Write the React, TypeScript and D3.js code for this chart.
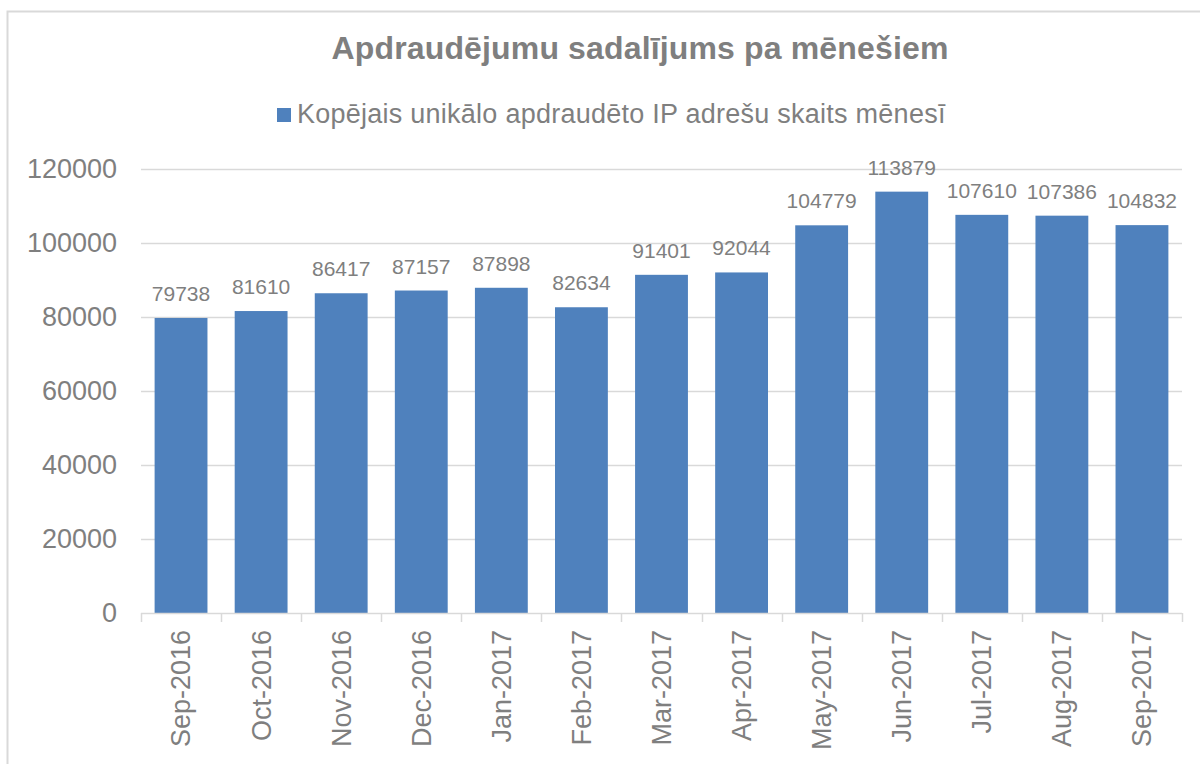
import { useRef, useEffect } from "react";
import * as d3 from "d3";

const TITLE = "Apdraudējumu sadalījums pa mēnešiem";
const SERIES_NAME = "Kopējais unikālo apdraudēto IP adrešu skaits mēnesī";

const months = [
  "Sep-2016",
  "Oct-2016",
  "Nov-2016",
  "Dec-2016",
  "Jan-2017",
  "Feb-2017",
  "Mar-2017",
  "Apr-2017",
  "May-2017",
  "Jun-2017",
  "Jul-2017",
  "Aug-2017",
  "Sep-2017",
];

const counts = [
  79738, 81610, 86417, 87157, 87898, 82634, 91401, 92044, 104779, 113879,
  107610, 107386, 104832,
];

const yTicks = [0, 20000, 40000, 60000, 80000, 100000, 120000];

const FONT = "'Liberation Sans', Arial, sans-serif";
const TEXT = "#7f7f7f";
const BAR = "#4f81bd";
const GRID = "#d9d9d9";

export default function App() {
  const svgRef = useRef<SVGSVGElement>(null);

  useEffect(() => {
    if (!svgRef.current) return;
    const svg = d3.select(svgRef.current);
    svg.selectAll("*").remove();

    const width = 1200;
    const height = 764;
    const margin = { top: 169, right: 18, bottom: 151, left: 141 };
    const innerW = width - margin.left - margin.right;
    const innerH = height - margin.top - margin.bottom;

    svg.attr("width", width).attr("height", height);

    svg
      .append("rect")
      .attr("width", width)
      .attr("height", height)
      .attr("fill", "#fff");

    // chart frame (right/bottom edges run off the picture)
    svg
      .append("rect")
      .attr("x", 7.5)
      .attr("y", 11.5)
      .attr("width", width + 20)
      .attr("height", height + 20)
      .attr("fill", "none")
      .attr("stroke", GRID)
      .attr("stroke-width", 2);

    const data = months.map((m, i) => ({ month: m, value: counts[i] }));

    const x = d3
      .scaleBand()
      .domain(months)
      .range([0, innerW])
      .paddingInner(0.34)
      .paddingOuter(0.17);
    const y = d3.scaleLinear().domain([0, 120000]).range([innerH, 0]);

    const g = svg
      .append("g")
      .attr("transform", `translate(${margin.left},${margin.top})`);

    // grid lines
    g.append("g")
      .selectAll("line")
      .data(yTicks.filter((t) => t > 0))
      .join("line")
      .attr("x1", 0)
      .attr("x2", innerW)
      .attr("y1", (d) => Math.round(y(d)) + 0.5)
      .attr("y2", (d) => Math.round(y(d)) + 0.5)
      .attr("stroke", GRID)
      .attr("stroke-width", 1.5);

    // y axis labels
    g.append("g")
      .selectAll("text")
      .data(yTicks)
      .join("text")
      .attr("x", -24)
      .attr("y", (d) => y(d))
      .attr("dy", "0.35em")
      .attr("text-anchor", "end")
      .style("font-family", FONT)
      .style("font-size", "27px")
      .style("fill", TEXT)
      .text((d) => String(d));

    // bars
    g.append("g")
      .selectAll("rect")
      .data(data)
      .join("rect")
      .attr("x", (d) => x(d.month) ?? 0)
      .attr("y", (d) => y(d.value))
      .attr("width", x.bandwidth())
      .attr("height", (d) => innerH - y(d.value))
      .attr("fill", BAR);

    // data labels
    g.append("g")
      .selectAll("text")
      .data(data)
      .join("text")
      .attr("x", (d) => (x(d.month) ?? 0) + x.bandwidth() / 2)
      .attr("y", (d) => y(d.value) - 17)
      .attr("text-anchor", "middle")
      .style("font-family", FONT)
      .style("font-size", "21px")
      .style("fill", TEXT)
      .text((d) => String(d.value));

    // x axis line + tick marks at category boundaries
    const bounds = d3
      .range(months.length + 1)
      .map((i) => i * (innerW / months.length));
    g.append("line")
      .attr("x1", 0)
      .attr("x2", innerW)
      .attr("y1", innerH + 0.5)
      .attr("y2", innerH + 0.5)
      .attr("stroke", GRID)
      .attr("stroke-width", 1.5);
    g.append("g")
      .selectAll("line")
      .data(bounds)
      .join("line")
      .attr("x1", (d) => Math.round(d) + 0.5)
      .attr("x2", (d) => Math.round(d) + 0.5)
      .attr("y1", innerH)
      .attr("y2", innerH + 9)
      .attr("stroke", GRID)
      .attr("stroke-width", 1.5);

    // x labels, rotated
    g.append("g")
      .selectAll("text")
      .data(months)
      .join("text")
      .attr(
        "transform",
        (d) =>
          `translate(${(x(d) ?? 0) + x.bandwidth() / 2},${innerH + 17}) rotate(-90)`,
      )
      .attr("dy", "0.35em")
      .attr("text-anchor", "end")
      .style("font-family", FONT)
      .style("font-size", "27px")
      .style("fill", TEXT)
      .text((d) => d);

    // title
    svg
      .append("text")
      .attr("x", 640)
      .attr("y", 59)
      .attr("text-anchor", "middle")
      .style("font-family", FONT)
      .style("font-size", "32px")
      .style("font-weight", "bold")
      .style("letter-spacing", "0.15px")
      .style("fill", TEXT)
      .text(TITLE);

    // legend
    const leg = svg.append("g").attr("transform", "translate(277,108)");
    leg
      .append("rect")
      .attr("width", 14)
      .attr("height", 14)
      .attr("fill", BAR);
    leg
      .append("text")
      .attr("x", 20)
      .attr("y", 15)
      .style("font-family", FONT)
      .style("font-size", "27px")
      .style("letter-spacing", "0.25px")
      .style("fill", TEXT)
      .text(SERIES_NAME);

    return () => {
      svg.selectAll("*").remove();
    };
  }, []);

  return (
    <svg
      ref={svgRef}
      style={{ position: "absolute", left: 0, top: 0, display: "block" }}
    />
  );
}
